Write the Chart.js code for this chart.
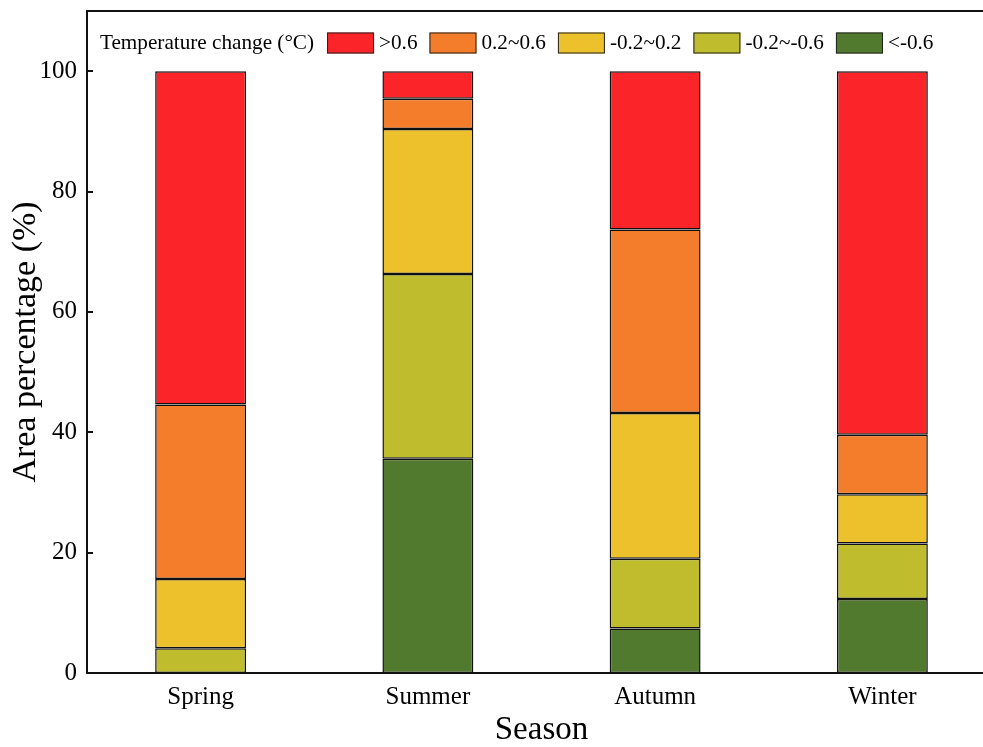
<!DOCTYPE html>
<html>
<head>
<meta charset="utf-8">
<script src="https://cdn.jsdelivr.net/npm/chart.js@4.4.1/dist/chart.umd.min.js"></script>
<style>
  html, body { margin: 0; padding: 0; background: #fff; overflow: hidden; }
  #wrap { width: 1000px; height: 747px; }
</style>
</head>
<body>
<div id="wrap"><canvas id="chart" width="1000" height="747"></canvas></div>
<script>
// Seasons on the x axis
const seasons = ["Spring", "Summer", "Autumn", "Winter"];

// Area percentage (%) per temperature-change class, bottom to top
const lessNeg06 = [0, 35.6, 7.4, 12.3];      // <-0.6
const neg02toNeg06 = [4.1, 30.7, 11.6, 9.2]; // -0.2~-0.6
const neg02to02 = [11.5, 24.1, 24.2, 8.2];   // -0.2~0.2
const pos02to06 = [29.0, 5.0, 30.5, 9.9];    // 0.2~0.6
const moreThan06 = [55.4, 4.6, 26.3, 60.4];  // >0.6

const yTicks = [0, 20, 40, 60, 80, 100];

const serif = "'Liberation Serif', 'Times New Roman', serif";

// legend order (left to right) is the reverse of the stack order
const legendOrder = [4, 3, 2, 1, 0];

const insideTicks = {
  id: "insideTicks",
  afterDraw(chart) {
    const ctx = chart.ctx;
    const y = chart.scales.y;
    const area = chart.chartArea;
    ctx.save();
    ctx.strokeStyle = "#111";
    ctx.lineWidth = 2;
    yTicks.forEach(v => {
      const py = Math.round(y.getPixelForValue(v));
      ctx.beginPath();
      ctx.moveTo(area.left, py);
      ctx.lineTo(area.left + 6, py);
      ctx.stroke();
    });
    // top and right frame lines
    ctx.beginPath();
    ctx.moveTo(area.left, area.top);
    ctx.lineTo(area.right, area.top);
    ctx.lineTo(area.right, area.bottom);
    ctx.stroke();
    ctx.restore();
  }
};

const inlineLegend = {
  id: "inlineLegend",
  afterDraw(chart) {
    const ctx = chart.ctx;
    const cy = 43;
    let x = 100;
    ctx.save();
    ctx.font = "21.2px " + serif;
    ctx.fillStyle = "#000";
    ctx.textBaseline = "middle";
    const title = "Temperature change (\u00B0C)";
    ctx.fillText(title, x, cy);
    x += ctx.measureText(title).width + 13;
    legendOrder.forEach(i => {
      const ds = chart.data.datasets[i];
      ctx.fillStyle = ds.backgroundColor;
      ctx.fillRect(x, cy - 10.5, 47, 21);
      ctx.strokeStyle = "#222";
      ctx.lineWidth = 1;
      ctx.strokeRect(x + 0.5, cy - 10, 46, 20);
      x += 52;
      ctx.fillStyle = "#000";
      ctx.fillText(ds.label, x, cy);
      x += ctx.measureText(ds.label).width + 12;
    });
    ctx.restore();
  }
};

function series(label, data, color) {
  return {
    label,
    data,
    backgroundColor: color,
    borderColor: "#111",
    borderWidth: 1.5,
    borderSkipped: false,
    barPercentage: 0.4,
    categoryPercentage: 1.0
  };
}

new Chart(document.getElementById("chart"), {
  type: "bar",
  data: {
    labels: seasons,
    datasets: [
      series("<-0.6", lessNeg06, "#527A2F"),
      series("-0.2~-0.6", neg02toNeg06, "#BFBC2D"),
      series("-0.2~0.2", neg02to02, "#ECC12B"),
      series("0.2~0.6", pos02to06, "#F47D2B"),
      series(">0.6", moreThan06, "#FB2428")
    ]
  },
  options: {
    responsive: false,
    animation: false,
    layout: { padding: { left: 0, top: 11, right: 4, bottom: 0 } },
    plugins: { legend: { display: false }, tooltip: { enabled: false } },
    scales: {
      x: {
        stacked: true,
        grid: { display: false, drawTicks: false },
        border: { display: true, color: "#111", width: 2 },
        ticks: { color: "#000", font: { family: serif, size: 25 }, padding: 9 },
        title: {
          display: true,
          text: "Season",
          color: "#000",
          font: { family: serif, size: 33, lineHeight: 1 },
          padding: { top: 0, bottom: 0 }
        },
        afterFit(scale) {
          scale.height = 74;
          scale.paddingLeft = 0;
          scale.paddingRight = 0;
        }
      },
      y: {
        stacked: true,
        min: 0,
        max: 110,
        grid: { display: false, drawTicks: false },
        border: { display: true, color: "#111", width: 2 },
        afterBuildTicks(scale) {
          scale.ticks = yTicks.map(v => ({ value: v }));
        },
        ticks: { color: "#000", font: { family: serif, size: 25 }, padding: 10 },
        title: {
          display: true,
          text: "Area percentage (%)",
          color: "#000",
          font: { family: serif, size: 34 },
          padding: { top: 6, bottom: 0 }
        },
        afterFit(scale) {
          scale.width = 87;
          scale.paddingTop = 0;
          scale.paddingBottom = 0;
        }
      }
    }
  },
  plugins: [insideTicks, inlineLegend]
});
</script>
</body>
</html>
